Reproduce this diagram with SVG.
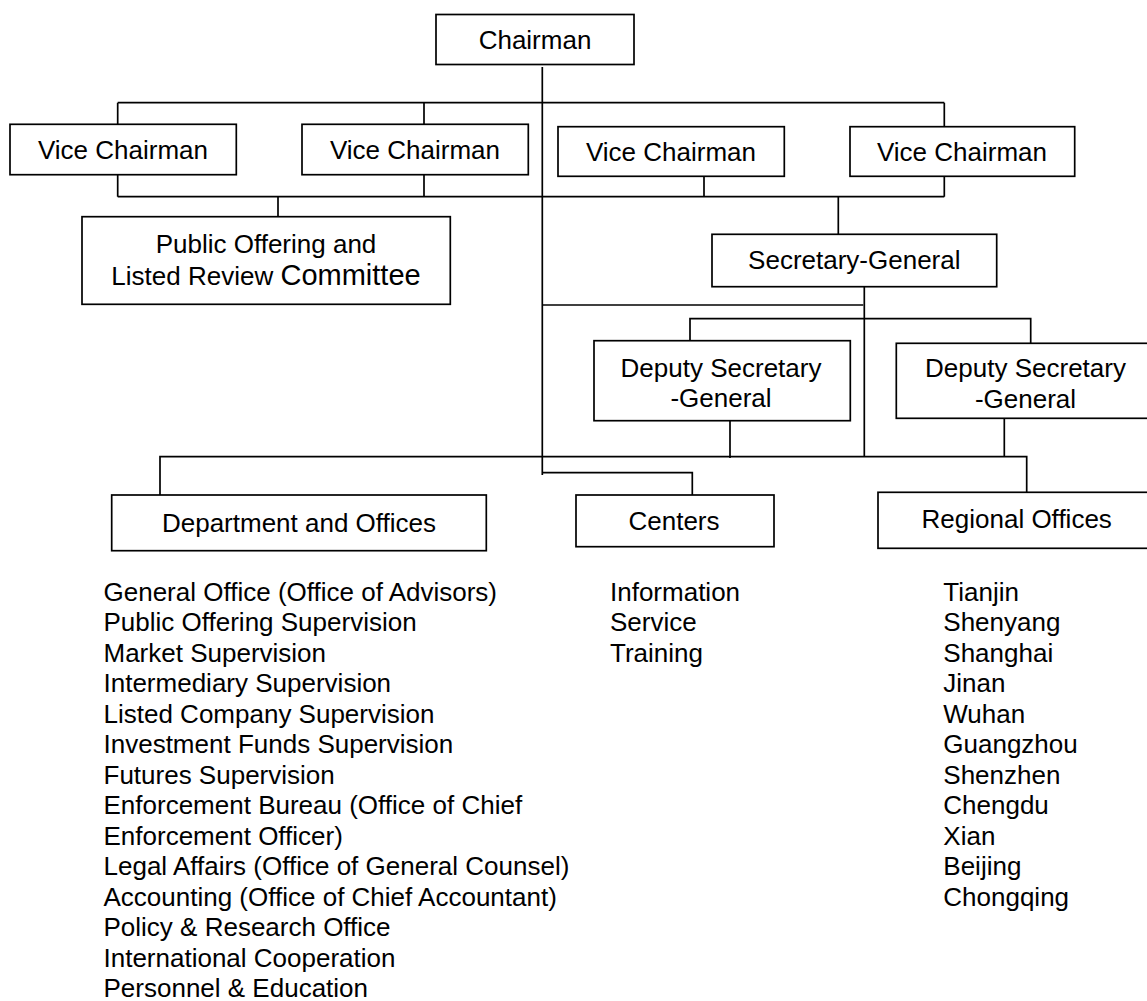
<svg xmlns="http://www.w3.org/2000/svg" width="1147" height="1001" viewBox="0 0 1147 1001">
<style>
.box{fill:#fff;stroke:#000;stroke-width:1.7}
.c{fill:none;stroke:#000;stroke-width:1.7}
text{font-family:"Liberation Sans",Arial,sans-serif;font-size:26px;fill:#000}
.m{text-anchor:middle}
</style>
<rect width="1147" height="1001" fill="#fff"/>
<g id="connectors">
<path class="c" d="M542.3,67 V475"/>
<path class="c" d="M117.7,102.7 H944.3"/>
<path class="c" d="M117.7,102.7 V124.3 M424,102.7 V124.3 M944.3,102.7 V126.7"/>
<path class="c" d="M117.7,196.7 H944.3"/>
<path class="c" d="M117.7,174.7 V196.7 M424,174.7 V196.7 M704,173 V196.7 M944.3,173 V196.7"/>
<path class="c" d="M278,196.7 V218"/>
<path class="c" d="M838.3,196.7 V234.3"/>
<path class="c" d="M542.3,305 H863.3"/>
<path class="c" d="M864.3,286.7 V456.7"/>
<path class="c" d="M690,340.7 V318.7 H1030.7 V343.3"/>
<path class="c" d="M730,420.7 V458"/>
<path class="c" d="M1004.3,418.3 V456.7"/>
<path class="c" d="M160,495 V456.7 H1026.7 V492.3"/>
<path class="c" d="M542.3,472.7 H692.3 V496"/>
</g>
<g id="chairman"><rect class="box" x="436" y="14.5" width="198" height="50"/><text class="m" x="535" y="49.3">Chairman</text></g>
<g id="vice1"><rect class="box" x="10" y="124.3" width="226.3" height="50.4"/><text class="m" x="123" y="159.3">Vice Chairman</text></g>
<g id="vice2"><rect class="box" x="302" y="124.3" width="226.3" height="50.4"/><text class="m" x="415" y="159.3">Vice Chairman</text></g>
<g id="vice3"><rect class="box" x="558" y="126.7" width="226.3" height="49.6"/><text class="m" x="671" y="160.7">Vice Chairman</text></g>
<g id="vice4"><rect class="box" x="850" y="126.7" width="224.7" height="49.6"/><text class="m" x="962" y="160.7">Vice Chairman</text></g>
<g id="committee"><rect class="box" x="82" y="216.7" width="368.3" height="87.6"/><text class="m" x="266" y="253.3">Public Offering and</text><text class="m" x="266" y="285">Listed Review <tspan font-size="29">Committee</tspan></text></g>
<g id="secretary-general"><rect class="box" x="712" y="234.3" width="284.7" height="52.4"/><text class="m" x="854.3" y="269">Secretary-General</text></g>
<g id="deputy1"><rect class="box" x="594" y="340.7" width="256.3" height="80"/><text class="m" x="721" y="376.7">Deputy Secretary</text><text class="m" x="721" y="406.7">-General</text></g>
<g id="deputy2"><rect class="box" x="896.3" y="343.3" width="262" height="75"/><text class="m" x="1025.5" y="377">Deputy Secretary</text><text class="m" x="1025.5" y="407.5">-General</text></g>
<g id="departments"><rect class="box" x="111.7" y="495" width="374.6" height="55.7"/><text class="m" x="299" y="531.7">Department and Offices</text></g>
<g id="centers"><rect class="box" x="576" y="495" width="198" height="51.7"/><text class="m" x="674" y="530">Centers</text></g>
<g id="regional"><rect class="box" x="878" y="492.3" width="280" height="56"/><text class="m" x="1016.7" y="528">Regional Offices</text></g>
<g id="department-list">
<text x="103.5" y="600.5">General Office (Office of Advisors)</text>
<text x="103.5" y="631">Public Offering Supervision</text>
<text x="103.5" y="661.5">Market Supervision</text>
<text x="103.5" y="692">Intermediary Supervision</text>
<text x="103.5" y="722.5">Listed Company Supervision</text>
<text x="103.5" y="753">Investment Funds Supervision</text>
<text x="103.5" y="783.5">Futures Supervision</text>
<text x="103.5" y="814">Enforcement Bureau (Office of Chief</text>
<text x="103.5" y="844.5">Enforcement Officer)</text>
<text x="103.5" y="875">Legal Affairs (Office of General Counsel)</text>
<text x="103.5" y="905.5">Accounting (Office of Chief Accountant)</text>
<text x="103.5" y="936">Policy &amp; Research Office</text>
<text x="103.5" y="966.5">International Cooperation</text>
<text x="103.5" y="997">Personnel &amp; Education</text>
</g>
<g id="centers-list">
<text x="610" y="600.5">Information</text>
<text x="610" y="631">Service</text>
<text x="610" y="661.5">Training</text>
</g>
<g id="regional-list">
<text x="943.3" y="600.5">Tianjin</text>
<text x="943.3" y="631">Shenyang</text>
<text x="943.3" y="661.5">Shanghai</text>
<text x="943.3" y="692">Jinan</text>
<text x="943.3" y="722.5">Wuhan</text>
<text x="943.3" y="753">Guangzhou</text>
<text x="943.3" y="783.5">Shenzhen</text>
<text x="943.3" y="814">Chengdu</text>
<text x="943.3" y="844.5">Xian</text>
<text x="943.3" y="875">Beijing</text>
<text x="943.3" y="905.5">Chongqing</text>
</g>
</svg>
